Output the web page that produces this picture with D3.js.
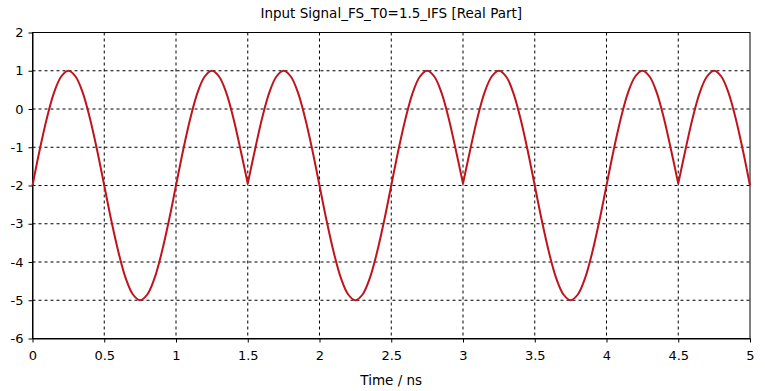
<!DOCTYPE html>
<html>
<head>
<meta charset="utf-8">
<script src="https://cdn.jsdelivr.net/npm/d3@7"></script>
<style>
  body { margin: 0; background: #fff; }
  text { font-family: Tahoma, "DejaVu Sans", sans-serif; fill: #000; }
</style>
</head>
<body>
<div id="plot"></div>
<script>
// signal samples (time in ns, real part)
const timeNs = [
  0, 0.05, 0.1, 0.15, 0.2, 0.25, 0.3, 0.35, 0.4, 0.45,
  0.5, 0.55, 0.6, 0.65, 0.7, 0.75, 0.8, 0.85, 0.9, 0.95,
  1, 1.05, 1.1, 1.15, 1.2, 1.25, 1.3, 1.35, 1.4, 1.45,
  1.5, 1.55, 1.6, 1.65, 1.7, 1.75, 1.8, 1.85, 1.9, 1.95,
  2, 2.05, 2.1, 2.15, 2.2, 2.25, 2.3, 2.35, 2.4, 2.45,
  2.5, 2.55, 2.6, 2.65, 2.7, 2.75, 2.8, 2.85, 2.9, 2.95,
  3, 3.05, 3.1, 3.15, 3.2, 3.25, 3.3, 3.35, 3.4, 3.45,
  3.5, 3.55, 3.6, 3.65, 3.7, 3.75, 3.8, 3.85, 3.9, 3.95,
  4, 4.05, 4.1, 4.15, 4.2, 4.25, 4.3, 4.35, 4.4, 4.45,
  4.5, 4.55, 4.6, 4.65, 4.7, 4.75, 4.8, 4.85, 4.9, 4.95,
  5
];
const realPart = [
  -2.00, -1.07, -0.24, 0.43, 0.85, 1.00, 0.85, 0.43, -0.24, -1.07,
  -2.00, -2.93, -3.76, -4.43, -4.85, -5.00, -4.85, -4.43, -3.76, -2.93,
  -2.00, -1.07, -0.24, 0.43, 0.85, 1.00, 0.85, 0.43, -0.24, -1.07,
  -1.95, -1.07, -0.24, 0.43, 0.85, 1.00, 0.85, 0.43, -0.24, -1.07,
  -2.00, -2.93, -3.76, -4.43, -4.85, -5.00, -4.85, -4.43, -3.76, -2.93,
  -2.00, -1.07, -0.24, 0.43, 0.85, 1.00, 0.85, 0.43, -0.24, -1.07,
  -1.95, -1.07, -0.24, 0.43, 0.85, 1.00, 0.85, 0.43, -0.24, -1.07,
  -2.00, -2.93, -3.76, -4.43, -4.85, -5.00, -4.85, -4.43, -3.76, -2.93,
  -2.00, -1.07, -0.24, 0.43, 0.85, 1.00, 0.85, 0.43, -0.24, -1.07,
  -1.95, -1.07, -0.24, 0.43, 0.85, 1.00, 0.85, 0.43, -0.24, -1.07,
  -2.00
];
// times where the waveform restarts (sharp cusps)
const cuspTimes = [1.5, 3, 4.5];
const xTicks = [0, 0.5, 1, 1.5, 2, 2.5, 3, 3.5, 4, 4.5, 5];
const yTicks = [-6, -5, -4, -3, -2, -1, 0, 1, 2];
const chartTitle = "Input Signal_FS_T0=1.5_IFS [Real Part]";
const xLabel = "Time / ns";

const W = 765, H = 391;
const margin = { top: 32.5, right: 15, bottom: 52.5, left: 32.5 };
const width = W - margin.left - margin.right;
const height = H - margin.top - margin.bottom;

const svg = d3.select("#plot").append("svg")
    .attr("width", W)
    .attr("height", H);

const g = svg.append("g")
    .attr("transform", "translate(" + margin.left + "," + margin.top + ")");

const x = d3.scaleLinear().domain([0, 5]).range([0, width]);
const y = d3.scaleLinear().domain([-6, 2]).range([height, 0]);

// plain hyphen for negative numbers, like the original
const fmt = d => String(d);

// dashed grid
g.append("g").selectAll("line")
    .data(xTicks.slice(1, -1))
    .enter().append("line")
    .attr("x1", d => x(d)).attr("x2", d => x(d))
    .attr("y1", 0).attr("y2", height)
    .attr("stroke", "#000")
    .attr("stroke-dasharray", "3,3");

g.append("g").selectAll("line")
    .data(yTicks.slice(1, -1))
    .enter().append("line")
    .attr("x1", 0).attr("x2", width)
    .attr("y1", d => y(d)).attr("y2", d => y(d))
    .attr("stroke", "#000")
    .attr("stroke-dasharray", "3,3");

// axes
const xAxis = g.append("g")
    .attr("transform", "translate(0," + height + ")")
    .call(d3.axisBottom(x).tickValues(xTicks).tickFormat(fmt).tickSize(4).tickSizeOuter(0));
const yAxis = g.append("g")
    .call(d3.axisLeft(y).tickValues(yTicks).tickFormat(fmt).tickSize(4).tickSizeOuter(0));

[xAxis, yAxis].forEach(a => {
    a.selectAll("path, line").attr("stroke", "#000");
    a.selectAll("text").style("font-size", "13px").attr("fill", "#000");
});
xAxis.selectAll("text").attr("dy", "1.15em");
yAxis.selectAll("text").attr("x", -9);

// frame
g.append("rect")
    .attr("width", width).attr("height", height)
    .attr("fill", "none").attr("stroke", "#000");

// signal, split at the cusps so the humps stay smooth and the cusps sharp
const pts = timeNs.map((t, i) => [t, realPart[i]]);
const bounds = [0].concat(cuspTimes, [5]);
const pieces = d3.pairs(bounds).map(([a, b]) => pts.filter(p => p[0] >= a - 1e-9 && p[0] <= b + 1e-9));

const line = d3.line()
    .x(d => x(d[0]))
    .y(d => y(d[1]))
    .curve(d3.curveCatmullRom.alpha(0.5));

g.selectAll(".sig")
    .data(pieces)
    .enter().append("path")
    .attr("class", "sig")
    .attr("fill", "none")
    .attr("stroke", "#c0141c")
    .attr("stroke-width", 2)
    .attr("stroke-linejoin", "round")
    .attr("d", line);

// title and axis label
svg.append("text")
    .attr("x", margin.left + width / 2)
    .attr("y", 18)
    .attr("text-anchor", "middle")
    .style("font-size", "13.5px")
    .text(chartTitle);

svg.append("text")
    .attr("x", margin.left + width / 2)
    .attr("y", 385)
    .attr("text-anchor", "middle")
    .style("font-size", "13.5px")
    .text(xLabel);
</script>
</body>
</html>
